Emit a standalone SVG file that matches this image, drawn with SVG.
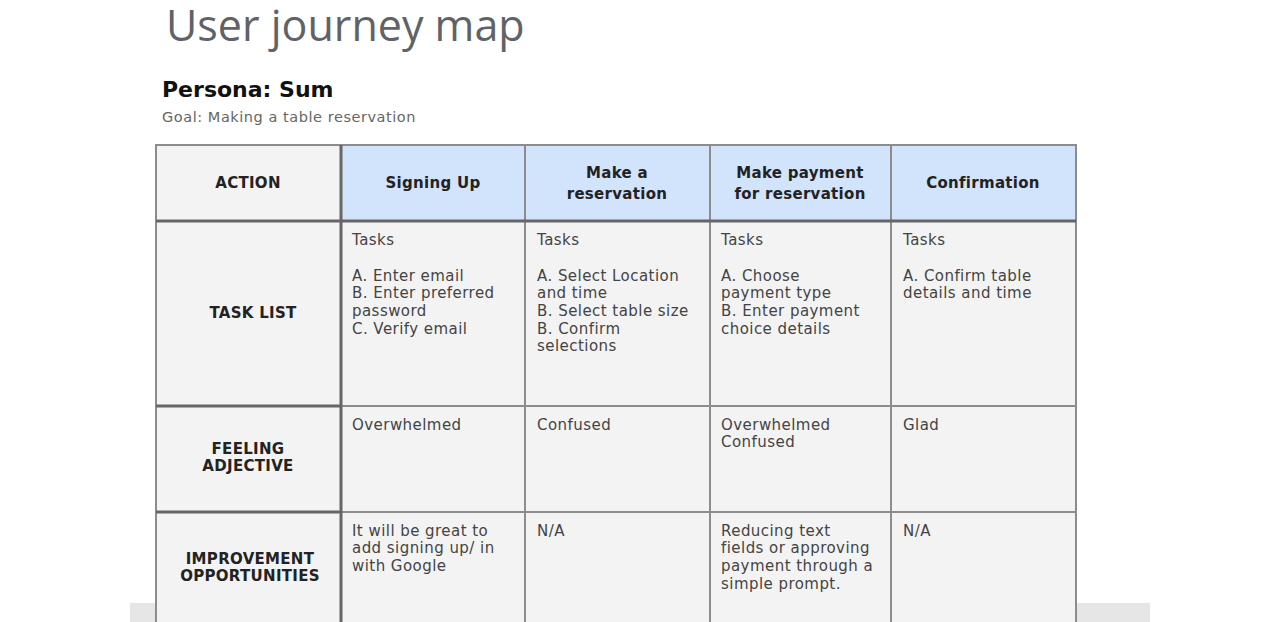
<svg xmlns="http://www.w3.org/2000/svg" width="1280" height="622" viewBox="0 0 1280 622">
<style>
.title{font-family:"Open Sans",sans-serif;font-size:43px;fill:#5f6368;font-weight:400}
.persona{font-family:"DejaVu Sans",sans-serif;font-size:22px;font-weight:bold;fill:#111}
.goal{font-family:"DejaVu Sans",sans-serif;font-size:14.5px;fill:#666;letter-spacing:0.55px}
.hd{font-family:"DejaVu Sans",sans-serif;font-size:15px;font-weight:bold;fill:#222;text-anchor:middle;letter-spacing:0.3px}
.tx{font-family:"DejaVu Sans",sans-serif;font-size:15px;fill:#444;letter-spacing:0.45px}
.cell{fill:#f3f3f3}
.head{fill:#d2e3fc}
.ln{stroke:#8c8c8c;stroke-width:2;fill:none}
.thk{stroke:#666;stroke-width:3;fill:none}
</style>
<rect x="0" y="0" width="1280" height="622" fill="#ffffff"/>
<rect x="130" y="603" width="1020" height="19" fill="#e6e6e6"/>
<text class="title" x="166" y="41">User journey map</text>
<text class="persona" x="162" y="97">Persona: Sum</text>
<text class="goal" x="162" y="122">Goal: Making a table reservation</text>

<g id="table-bg">
<rect class="cell" x="156" y="145" width="920" height="477"/>
<rect class="head" x="341" y="145" width="735" height="76"/>
</g>
<g id="grid">
<rect class="ln" x="156" y="145" width="920" height="490"/>
<line class="ln" x1="525" y1="145" x2="525" y2="622"/>
<line class="ln" x1="710" y1="145" x2="710" y2="622"/>
<line class="ln" x1="891" y1="145" x2="891" y2="622"/>
<line class="ln" x1="341" y1="406" x2="1076" y2="406"/>
<line class="ln" x1="341" y1="512" x2="1076" y2="512"/>
<line class="thk" x1="156" y1="221" x2="1076" y2="221"/>
<line class="thk" x1="156" y1="406" x2="341" y2="406"/>
<line class="thk" x1="156" y1="512" x2="341" y2="512"/>
<line class="thk" x1="341" y1="145" x2="341" y2="622"/>
</g>

<g id="row-action">
<text class="hd" x="248" y="188">ACTION</text>
<text class="hd" x="433" y="188">Signing Up</text>
<text class="hd" x="617" y="178">Make a</text>
<text class="hd" x="617" y="199">reservation</text>
<text class="hd" x="800" y="178">Make payment</text>
<text class="hd" x="800" y="199">for reservation</text>
<text class="hd" x="983" y="188">Confirmation</text>
</g>

<g id="row-tasks">
<text class="hd" x="253" y="318">TASK LIST</text>
<text class="tx" x="352" y="245">Tasks</text>
<text class="tx" x="352" y="281">A. Enter email</text>
<text class="tx" x="352" y="298">B. Enter preferred</text>
<text class="tx" x="352" y="316">password</text>
<text class="tx" x="352" y="334">C. Verify email</text>
<text class="tx" x="537" y="245">Tasks</text>
<text class="tx" x="537" y="281">A. Select Location</text>
<text class="tx" x="537" y="298">and time</text>
<text class="tx" x="537" y="316">B. Select table size</text>
<text class="tx" x="537" y="334">B. Confirm</text>
<text class="tx" x="537" y="351">selections</text>
<text class="tx" x="721" y="245">Tasks</text>
<text class="tx" x="721" y="281">A. Choose</text>
<text class="tx" x="721" y="298">payment type</text>
<text class="tx" x="721" y="316">B. Enter payment</text>
<text class="tx" x="721" y="334">choice details</text>
<text class="tx" x="903" y="245">Tasks</text>
<text class="tx" x="903" y="281">A. Confirm table</text>
<text class="tx" x="903" y="298">details and time</text>
</g>

<g id="row-feeling">
<text class="hd" x="248" y="454">FEELING</text>
<text class="hd" x="248" y="471">ADJECTIVE</text>
<text class="tx" x="352" y="430">Overwhelmed</text>
<text class="tx" x="537" y="430">Confused</text>
<text class="tx" x="721" y="430">Overwhelmed</text>
<text class="tx" x="721" y="447">Confused</text>
<text class="tx" x="903" y="430">Glad</text>
</g>

<g id="row-improvement">
<text class="hd" x="250" y="564">IMPROVEMENT</text>
<text class="hd" x="250" y="581">OPPORTUNITIES</text>
<text class="tx" x="352" y="536">It will be great to</text>
<text class="tx" x="352" y="553">add signing up/ in</text>
<text class="tx" x="352" y="571">with Google</text>
<text class="tx" x="537" y="536">N/A</text>
<text class="tx" x="721" y="536">Reducing text</text>
<text class="tx" x="721" y="553">fields or approving</text>
<text class="tx" x="721" y="571">payment through a</text>
<text class="tx" x="721" y="589">simple prompt.</text>
<text class="tx" x="903" y="536">N/A</text>
</g>
</svg>
